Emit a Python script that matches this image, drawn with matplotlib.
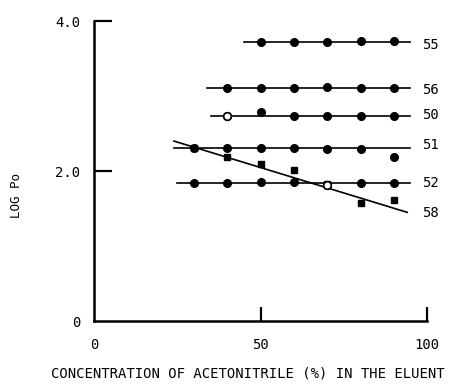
import numpy as np
import matplotlib
matplotlib.use('Agg')
import matplotlib.pyplot as plt

# acetonitrile concentration (%) and log P'o for each compound
s55_x = [50, 60, 70, 80, 90]
s55_y = [3.72, 3.72, 3.72, 3.73, 3.73]
s56_x = [40, 50, 60, 70, 80, 90]
s56_y = [3.11, 3.11, 3.11, 3.12, 3.11, 3.11]
s50_x = [40, 50, 60, 70, 80, 90]
s50_y = [2.74, 2.79, 2.74, 2.73, 2.74, 2.73]
s51_x = [30, 40, 50, 60, 70, 80, 90]
s51_y = [2.31, 2.31, 2.31, 2.31, 2.30, 2.30, 2.19]
s52_x = [30, 40, 50, 60, 70, 80, 90]
s52_y = [1.84, 1.84, 1.85, 1.85, 1.81, 1.84, 1.84]
s58_x = [30, 40, 50, 60, 70, 80, 90]
s58_y = [2.31, 2.19, 2.09, 2.02, 1.83, 1.58, 1.61]

# drawn lines (start, end) for each compound
line55 = ([45, 95], [3.72, 3.72])
line56 = ([34, 95], [3.11, 3.11])
line50 = ([35, 95], [2.74, 2.74])
line51 = ([24, 95], [2.31, 2.31])
line52 = ([25, 95], [1.84, 1.84])
line58 = ([24, 94], [2.40, 1.45])

labels = ['55', '56', '50', '51', '52', '58']
label_y = [3.68, 3.08, 2.75, 2.35, 1.84, 1.44]

# open (hollow) points
open_pts = [(40, 2.74), (70, 1.81)]

plt.rcParams['font.family'] = 'DejaVu Sans Mono'

fig = plt.figure(figsize=(4.52, 3.84), dpi=100)
ax = fig.add_axes([0.208, 0.164, 0.737, 0.781])

lw = 1.2
for lx, ly in [line55, line56, line50, line51, line52, line58]:
    ax.plot(lx, ly, color='black', lw=lw, zorder=2)

for xs, ys in [(s55_x, s55_y), (s56_x, s56_y), (s50_x, s50_y),
               (s51_x, s51_y), (s52_x, s52_y)]:
    ax.plot(xs, ys, 'o', color='black', ms=5.5, ls='none', zorder=3)
ax.plot(s58_x, s58_y, 's', color='black', ms=5, ls='none', zorder=3)

for px, py in open_pts:
    ax.plot(px, py, 'o', mfc='white', mec='black', mew=1.2, ms=5.5, zorder=4)

for lab, ly in zip(labels, label_y):
    ax.text(98.5, ly, lab, fontsize=10, va='center', ha='left')

ax.set_xlim(0, 100)
ax.set_ylim(0, 4)
ax.spines['top'].set_visible(False)
ax.spines['right'].set_visible(False)
ax.spines['left'].set_linewidth(1.8)
ax.spines['bottom'].set_linewidth(1.8)

ax.set_xticks([0, 50, 100])
ax.set_xticklabels(['0', '50', '100'], fontsize=10)
ax.set_yticks([0, 2, 4])
ax.set_yticklabels(['0', '2.0', '4.0'], fontsize=10)
ax.tick_params(axis='x', direction='in', length=10, width=1.6, pad=12)
ax.tick_params(axis='y', direction='in', length=13, width=1.6, pad=10)
ax.xaxis.get_major_ticks()[0].tick1line.set_visible(False)
ax.yaxis.get_major_ticks()[0].tick1line.set_visible(False)

ax.set_xlabel('CONCENTRATION OF ACETONITRILE (%) IN THE ELUENT', fontsize=10)
ax.xaxis.set_label_coords(0.462, -0.15)
ax.set_ylabel("LOG Po", fontsize=9)
ax.yaxis.set_label_coords(-0.213, 0.417)

fig.savefig('out.png', dpi=100)
